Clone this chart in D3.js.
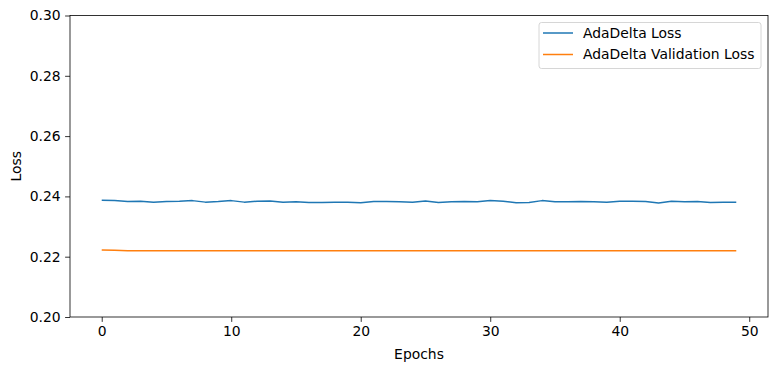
<!DOCTYPE html>
<html>
<head>
<meta charset="utf-8">
<script src="https://cdn.jsdelivr.net/npm/d3@7"></script>
<style>
  body { margin: 0; background: #fff; }
  text { font-family: "DejaVu Sans", sans-serif; }
</style>
</head>
<body>
<div id="chart"></div>
<script>
// values
var epochs = d3.range(0, 50);
var trainLoss = [0.2387, 0.2386, 0.2383, 0.2384, 0.2381, 0.2383, 0.2384, 0.2386, 0.2381, 0.2383,
                 0.2386, 0.2381, 0.2384, 0.2385, 0.2381, 0.2382, 0.2380, 0.2380, 0.2381, 0.2381,
                 0.2379, 0.2383, 0.2383, 0.2382, 0.2381, 0.2385, 0.2380, 0.2382, 0.2383, 0.2382,
                 0.2386, 0.2384, 0.2379, 0.2380, 0.2386, 0.2382, 0.2382, 0.2383, 0.2382, 0.2381,
                 0.2384, 0.2384, 0.2383, 0.2378, 0.2384, 0.2382, 0.2383, 0.2380, 0.2381, 0.2381];
var valLoss = [0.2222, 0.2221, 0.2220, 0.2220, 0.2220, 0.2220, 0.2220, 0.2220, 0.2220, 0.2220,
               0.2220, 0.2220, 0.2220, 0.2220, 0.2220, 0.2220, 0.2220, 0.2220, 0.2220, 0.2220,
               0.2220, 0.2220, 0.2220, 0.2220, 0.2220, 0.2220, 0.2220, 0.2220, 0.2220, 0.2220,
               0.2220, 0.2220, 0.2220, 0.2220, 0.2220, 0.2220, 0.2220, 0.2220, 0.2220, 0.2220,
               0.2220, 0.2220, 0.2220, 0.2220, 0.2220, 0.2220, 0.2220, 0.2220, 0.2220, 0.2220];
var xTicks = [0, 10, 20, 30, 40, 50];
var yTicks = [0.20, 0.22, 0.24, 0.26, 0.28, 0.30];
var seriesNames = ["AdaDelta Loss", "AdaDelta Validation Loss"];
var colors = ["#1f77b4", "#ff7f0e"];

var W = 777, H = 370;
var fs = "13.9px";
var margin = {top: 15.5, right: 9, bottom: 53, left: 70};
var width = W - margin.left - margin.right,
    height = H - margin.top - margin.bottom;

var svg = d3.select("#chart").append("svg")
    .attr("width", W)
    .attr("height", H);

var g = svg.append("g")
    .attr("transform", "translate(" + margin.left + "," + margin.top + ")");

var xScale = d3.scaleLinear()
    .domain([-2.45, 51.45])
    .range([0, width]);

var yScale = d3.scaleLinear()
    .domain([0.20, 0.30])
    .range([height, 0]);

var line = d3.line()
    .x(function(d, i) { return xScale(epochs[i]); })
    .y(function(d) { return yScale(d); });

[trainLoss, valLoss].forEach(function(s, k) {
  g.append("path")
      .datum(s)
      .attr("fill", "none")
      .attr("stroke", colors[k])
      .attr("stroke-width", 1.5)
      .attr("stroke-linejoin", "round")
      .attr("d", line);
});

// frame
g.append("rect")
    .attr("width", width)
    .attr("height", height)
    .attr("fill", "none")
    .attr("stroke", "#000")
    .attr("stroke-width", 0.8);

var xAxis = g.append("g")
    .attr("transform", "translate(0," + height + ")")
    .call(d3.axisBottom(xScale).tickValues(xTicks).tickSize(4.9).tickPadding(4).tickFormat(d3.format("d")));

var yAxis = g.append("g")
    .call(d3.axisLeft(yScale).tickValues(yTicks).tickSize(4.9).tickPadding(4.5).tickFormat(d3.format(".2f")));

[xAxis, yAxis].forEach(function(a) {
  a.select(".domain").remove();
  a.selectAll(".tick line").attr("stroke", "#000").attr("stroke-width", 0.8);
  a.selectAll(".tick text").attr("fill", "#000").style("font-size", fs).style("font-family", "DejaVu Sans");
});

g.append("text")
    .attr("x", width / 2)
    .attr("y", height + 42)
    .attr("text-anchor", "middle")
    .style("font-size", fs)
    .text("Epochs");

g.append("text")
    .attr("transform", "translate(" + (-49) + "," + (height / 2) + ") rotate(-90)")
    .attr("text-anchor", "middle")
    .style("font-size", fs)
    .text("Loss");

// legend
var legend = g.append("g")
    .attr("transform", "translate(" + (width - 229) + ",7)");

legend.append("rect")
    .attr("width", 222)
    .attr("height", 46)
    .attr("rx", 2.5)
    .attr("fill", "#fff")
    .attr("fill-opacity", 0.8)
    .attr("stroke", "#ccc")
    .attr("stroke-width", 0.8);

seriesNames.forEach(function(name, k) {
  var yy = 10.5 + k * 21.5;
  legend.append("line")
      .attr("x1", 4).attr("x2", 34)
      .attr("y1", yy).attr("y2", yy)
      .attr("stroke", colors[k])
      .attr("stroke-width", 1.5);
  legend.append("text")
      .attr("x", 44)
      .attr("y", yy)
      .attr("dy", "0.35em")
      .style("font-size", fs)
      .text(name);
});
</script>
</body>
</html>
